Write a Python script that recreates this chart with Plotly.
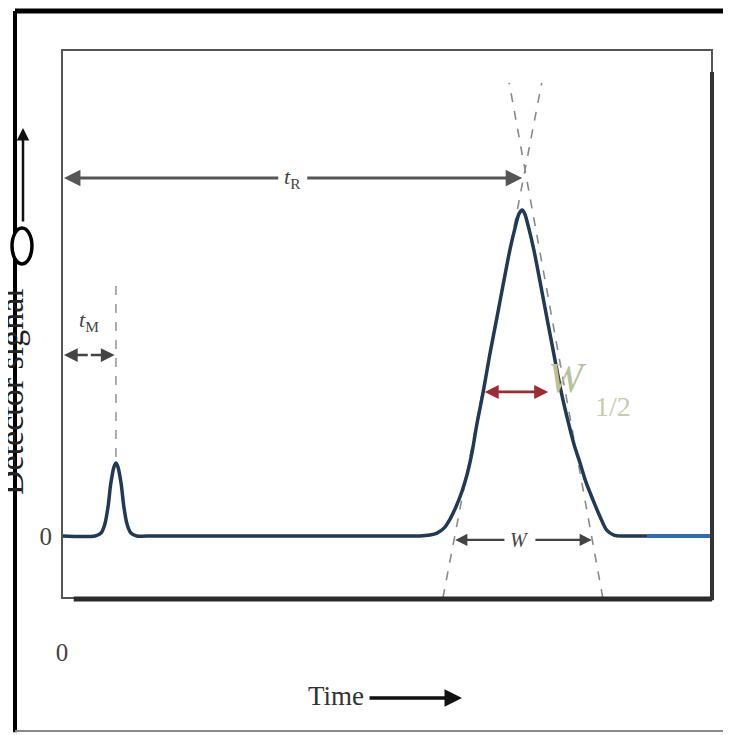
import plotly.graph_objects as go

# ---- data (time in arbitrary units 0..100, signal with tallest peak = 100)
sig_x = [0, 5.1, 6.0, 6.6, 7.1, 7.5, 8.0, 8.3, 8.6, 9.1, 9.5, 10.0, 10.6, 11.5, 13.0,
         30.0, 53.5,
         55.1, 56.6, 57.7, 58.8, 59.7, 60.6, 61.5, 62.3, 63.1, 63.8, 64.8, 65.8, 66.9, 68.0, 68.9, 69.7, 70.3,
         70.8,
         71.2, 71.8, 72.6, 73.5, 74.6, 75.7, 76.8, 77.8, 78.8, 79.7, 80.6, 81.7, 82.8, 83.8, 84.9, 86.2,
         88.0, 100]
sig_y = [0, 0, 0.9, 3.7, 9.2, 16.0, 21.2, 22.4, 21.2, 16.0, 9.2, 3.7, 0.9, 0, 0,
         0, 0,
         0, 0.3, 0.9, 2.5, 5.2, 8.9, 13.5, 18.7, 25.8, 34.0, 44.2, 55.5, 66.9, 78.5, 87.7, 94.5, 98.8,
         100,
         98.8, 94.5, 87.7, 78.5, 66.9, 55.5, 44.2, 35.6, 27.9, 22.4, 16.6, 11.0, 5.8, 1.8, 0.3, 0,
         0, 0]
blue_x = [90, 100]
blue_y = [0, 0]

t_M = 8.3          # unretained peak time
t_R = 70.8         # retained peak time
y_tR_arrow = 109.8
y_tM_arrow = 55.5
half_w = [64.8, 74.8]   # W1/2 arrow ends
half_y = 44.2
W_ends = [60.5, 81.5]
W_y = -1.2
tanL = ([58.6, 73.8], [-19.0, 139.0])
tanR = ([83.2, 68.8], [-19.0, 139.0])
x_ticks, x_ticktext = [0], ["0"]
y_ticks, y_ticktext = [0], ["0"]

SERIF = "Liberation Serif"
DARK = "#444444"

fig = go.Figure()

# tangent lines
for tx, ty in (tanL, tanR):
    fig.add_trace(go.Scatter(x=tx, y=ty, mode="lines",
                             line=dict(color="#8a8a8a", width=1.6, dash="dash"), hoverinfo="skip"))
# dashed marker above t_M peak
fig.add_trace(go.Scatter(x=[t_M, t_M], y=[24.2, 77.6], mode="lines",
                         line=dict(color="#999999", width=1.6, dash="dash"), hoverinfo="skip"))
# chromatogram
fig.add_trace(go.Scatter(x=sig_x, y=sig_y, mode="lines", line_shape="spline",
                         line=dict(color="#203a55", width=3.5, smoothing=0.8), hoverinfo="skip"))
fig.add_trace(go.Scatter(x=blue_x, y=blue_y, mode="lines",
                         line=dict(color="#2f6db0", width=4), hoverinfo="skip"))

ann = []
def arrow(x, y, ax, ay, color=DARK, width=2.5, size=1.1):
    ann.append(dict(x=x, y=y, ax=ax, ay=ay, xref="x", yref="y", axref="x", ayref="y",
                    showarrow=True, arrowhead=2, arrowsize=size, arrowwidth=width,
                    arrowcolor=color, text=""))

# t_R arrow (two halves around the label)
arrow(0.3, y_tR_arrow, 33.5, y_tR_arrow, color="#555555", width=3)
arrow(t_R, y_tR_arrow, 37.5, y_tR_arrow, color="#555555", width=3)
ann.append(dict(x=35.4, y=y_tR_arrow, xref="x", yref="y", showarrow=False,
                text="<i>t</i><sub>R</sub>", font=dict(family=SERIF, size=22, color=DARK)))
# t_M arrow
arrow(0.3, y_tM_arrow, 4.2, y_tM_arrow, width=2.5)
arrow(t_M - 0.2, y_tM_arrow, 4.2, y_tM_arrow, width=2.5)
ann.append(dict(x=4.15, y=65.8, xref="x", yref="y", showarrow=False,
                text="<i>t</i><sub>M</sub>", font=dict(family=SERIF, size=22, color=DARK)))
# W1/2 arrow (red)
ann.append(dict(x=half_w[1], y=half_y, ax=half_w[0], ay=half_y, xref="x", yref="y",
                axref="x", ayref="y", showarrow=True, arrowhead=2, arrowside="end+start",
                arrowsize=1.0, arrowwidth=2.8, arrowcolor="#9e2a32", text=""))
ann.append(dict(x=77.8, y=48.5, xref="x", yref="y", showarrow=False,
                text="<i>W</i>", font=dict(family=SERIF, size=42, color="#b7c29c")))
ann.append(dict(x=84.8, y=39.6, xref="x", yref="y", showarrow=False,
                text="1/2", font=dict(family=SERIF, size=28, color="#c6cdac")))
# W arrow
arrow(W_ends[0], W_y, 68.3, W_y, width=2.2)
arrow(W_ends[1], W_y, 72.6, W_y, width=2.2)
ann.append(dict(x=70.45, y=W_y, xref="x", yref="y", showarrow=False,
                text="<i>W</i>", font=dict(family=SERIF, size=20, color=DARK)))

# axis label pieces outside the plot
ann.append(dict(x=-0.0769, y=0.376, xref="paper", yref="paper", showarrow=False,
                xanchor="center", yanchor="middle",
                text="Detector signal", textangle=-90,
                font=dict(family=SERIF, size=34, color="#222222")))
ann.append(dict(x=-0.06, y=0.8577, xref="paper", yref="paper", ax=0, ay=95,
                showarrow=True, arrowhead=2, arrowsize=1.0, arrowwidth=2.5,
                arrowcolor="#111111", text=""))
ann.append(dict(x=0.4215, y=-0.1788, xref="paper", yref="paper", showarrow=False,
                xanchor="center", yanchor="middle",
                text="Time", font=dict(family=SERIF, size=27, color="#333333")))
ann.append(dict(x=0.6154, y=-0.1825, xref="paper", yref="paper", ax=-94, ay=0,
                showarrow=True, arrowhead=2, arrowsize=1.0, arrowwidth=3.5,
                arrowcolor="#111111", text=""))

shapes = [
    # plot box
    dict(type="rect", xref="paper", yref="paper", x0=0, x1=1, y0=0, y1=1,
         line=dict(color="#555555", width=2)),
    dict(type="line", xref="paper", yref="paper", x0=0.018, x1=1.0, y0=-0.002, y1=-0.002,
         line=dict(color="#2b2b2b", width=5)),
    dict(type="line", xref="paper", yref="paper", x0=1.0, x1=1.0, y0=-0.004, y1=0.96,
         line=dict(color="#333333", width=4)),
    # outer frame
    dict(type="line", xref="paper", yref="paper", x0=-0.0723, x1=1.04, y0=1.0712, y1=1.0712,
         line=dict(color="#000000", width=5)),
    dict(type="line", xref="paper", yref="paper", x0=-0.0723, x1=-0.0723, y0=-0.245, y1=1.0712,
         line=dict(color="#000000", width=4)),
    dict(type="line", xref="paper", yref="paper", x0=-0.0723, x1=1.04, y0=-0.2427, y1=-0.2427,
         line=dict(color="#8a8a8a", width=2)),
    # round glyph remnant on left
    dict(type="circle", xref="paper", yref="paper", x0=-0.0769, x1=-0.0462, y0=0.6095, y1=0.6752,
         line=dict(color="#000000", width=3.5), fillcolor="white"),
]

# page body has an 8px margin, so the figure is drawn 8px smaller and offset
fig.update_layout(
    width=723, height=727,
    margin=dict(l=54, r=19, t=42, b=137),
    paper_bgcolor="white", plot_bgcolor="white",
    showlegend=False,
    annotations=ann, shapes=shapes,
    xaxis=dict(range=[0, 100], showgrid=False, zeroline=False, showline=False,
               tickvals=x_ticks, ticktext=x_ticktext, ticks="", ticklabelstandoff=37,
               tickfont=dict(family=SERIF, size=25, color="#444444")),
    yaxis=dict(range=[-19.02, 149.08], showgrid=False, zeroline=False, showline=False,
               tickvals=y_ticks, ticktext=y_ticktext, ticks="", ticklabelstandoff=9,
               tickfont=dict(family=SERIF, size=25, color="#444444")),
)

fig.write_html("out.html")
